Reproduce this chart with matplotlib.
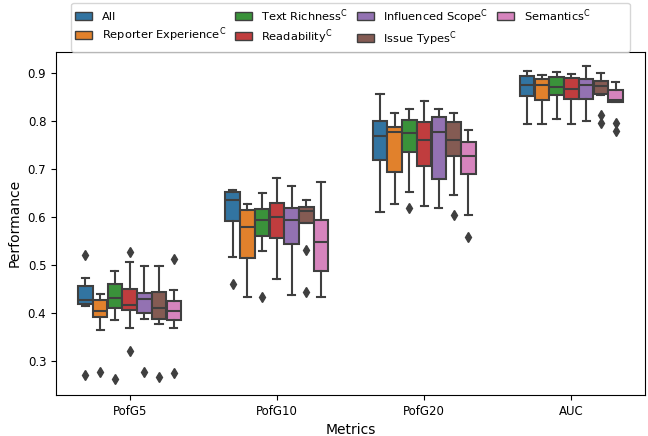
import numpy as np
import matplotlib
matplotlib.use("Agg")
import matplotlib.pyplot as plt
from matplotlib.patches import Patch
import colorsys

# metrics on the x axis
metrics = ["PofG5", "PofG10", "PofG20", "AUC"]

# feature sets (hue)
features = ["All", r"Reporter Experience$^{\mathrm{C}}$", r"Text Richness$^{\mathrm{C}}$",
            r"Readability$^{\mathrm{C}}$", r"Influenced Scope$^{\mathrm{C}}$",
            r"Issue Types$^{\mathrm{C}}$", r"Semantics$^{\mathrm{C}}$"]

# box statistics, one row per feature set, one column per metric
whis_hi = np.array([
    [0.473, 0.656, 0.856, 0.905],
    [0.439, 0.627, 0.817, 0.896],
    [0.487, 0.649, 0.825, 0.903],
    [0.505, 0.681, 0.842, 0.899],
    [0.497, 0.665, 0.825, 0.915],
    [0.497, 0.635, 0.817, 0.901],
    [0.448, 0.673, 0.781, 0.882],
])
q3 = np.array([
    [0.455, 0.652, 0.801, 0.894],
    [0.427, 0.615, 0.788, 0.887],
    [0.459, 0.616, 0.802, 0.892],
    [0.449, 0.629, 0.798, 0.890],
    [0.441, 0.619, 0.808, 0.888],
    [0.443, 0.620, 0.798, 0.884],
    [0.425, 0.593, 0.756, 0.865],
])
medians = np.array([
    [0.426, 0.635, 0.768, 0.876],
    [0.404, 0.579, 0.777, 0.875],
    [0.430, 0.594, 0.775, 0.871],
    [0.415, 0.600, 0.760, 0.867],
    [0.429, 0.594, 0.777, 0.875],
    [0.409, 0.612, 0.761, 0.873],
    [0.404, 0.548, 0.728, 0.844],
])
q1 = np.array([
    [0.419, 0.591, 0.718, 0.852],
    [0.391, 0.515, 0.693, 0.844],
    [0.409, 0.561, 0.736, 0.854],
    [0.405, 0.556, 0.706, 0.846],
    [0.400, 0.543, 0.679, 0.846],
    [0.387, 0.588, 0.727, 0.856],
    [0.384, 0.487, 0.690, 0.839],
])
whis_lo = np.array([
    [0.414, 0.516, 0.610, 0.793],
    [0.364, 0.432, 0.627, 0.793],
    [0.384, 0.528, 0.653, 0.805],
    [0.367, 0.470, 0.622, 0.793],
    [0.387, 0.437, 0.619, 0.800],
    [0.376, 0.587, 0.646, 0.855],
    [0.367, 0.432, 0.604, 0.839],
])
fliers = [
    [[0.521, 0.270], [0.460], [], []],
    [[0.276], [], [], []],
    [[0.261], [0.432], [0.619], []],
    [[0.526, 0.319], [], [], []],
    [[0.276], [], [], []],
    [[0.265], [0.531, 0.444], [0.603], [0.813, 0.797]],
    [[0.512, 0.274], [], [0.558], [0.796, 0.780]],
]


def desaturate(c, prop=0.75):
    r, g, b = matplotlib.colors.to_rgb(c)
    h, l, s = colorsys.rgb_to_hls(r, g, b)
    return colorsys.hls_to_rgb(h, l, s * prop)


colors = [desaturate(c) for c in plt.cm.tab10.colors[:7]]
line_gray = "#3f3f3f"

fig = plt.figure(figsize=(6.48, 4.36), dpi=100)
ax = fig.add_axes([0.0864, 0.094, 0.9090, 0.7874])

n = len(features)
group_w = 0.7
slot = group_w / n
x = np.arange(len(metrics))

for i in range(n):
    stats = []
    for j in range(len(metrics)):
        stats.append(dict(med=medians[i, j], q1=q1[i, j], q3=q3[i, j],
                          whislo=whis_lo[i, j], whishi=whis_hi[i, j],
                          fliers=fliers[i][j]))
    pos = x + (i - (n - 1) / 2) * slot
    ax.bxp(stats, positions=pos, widths=slot * 0.98, patch_artist=True,
           manage_ticks=False,
           boxprops=dict(facecolor=colors[i], edgecolor=line_gray, linewidth=1.5),
           medianprops=dict(color=line_gray, linewidth=1.5),
           whiskerprops=dict(color=line_gray, linewidth=1.5),
           capprops=dict(color=line_gray, linewidth=1.5),
           flierprops=dict(marker="d", markersize=5, markerfacecolor=line_gray,
                           markeredgecolor=line_gray, linestyle="none"))

ax.set_xlim(-0.5, len(metrics) - 0.5)
ax.set_ylim(0.228, 0.945)
ax.set_xticks(x)
ax.set_xticklabels(metrics, fontsize=8.5)
ax.set_yticks([0.3, 0.4, 0.5, 0.6, 0.7, 0.8, 0.9])
ax.tick_params(axis="y", labelsize=8.5)
ax.set_xlabel("Metrics", fontsize=10)
ax.set_ylabel("Performance", fontsize=10)

handles = [Patch(facecolor=colors[i], edgecolor=line_gray, linewidth=1.0, label=features[i])
           for i in range(n)]
# empty slot so the legend box keeps the spare room on its right side
handles.append(Patch(facecolor="none", edgecolor="none", label=""))
ax.legend(handles=handles, loc="upper center", bbox_to_anchor=(0.5, 1.142), ncol=5,
          fontsize=8.2, handlelength=1.45, columnspacing=0.8, handletextpad=0.85,
          labelspacing=0.3, borderpad=0.35, borderaxespad=0)

fig.savefig("out.png", dpi=100)
